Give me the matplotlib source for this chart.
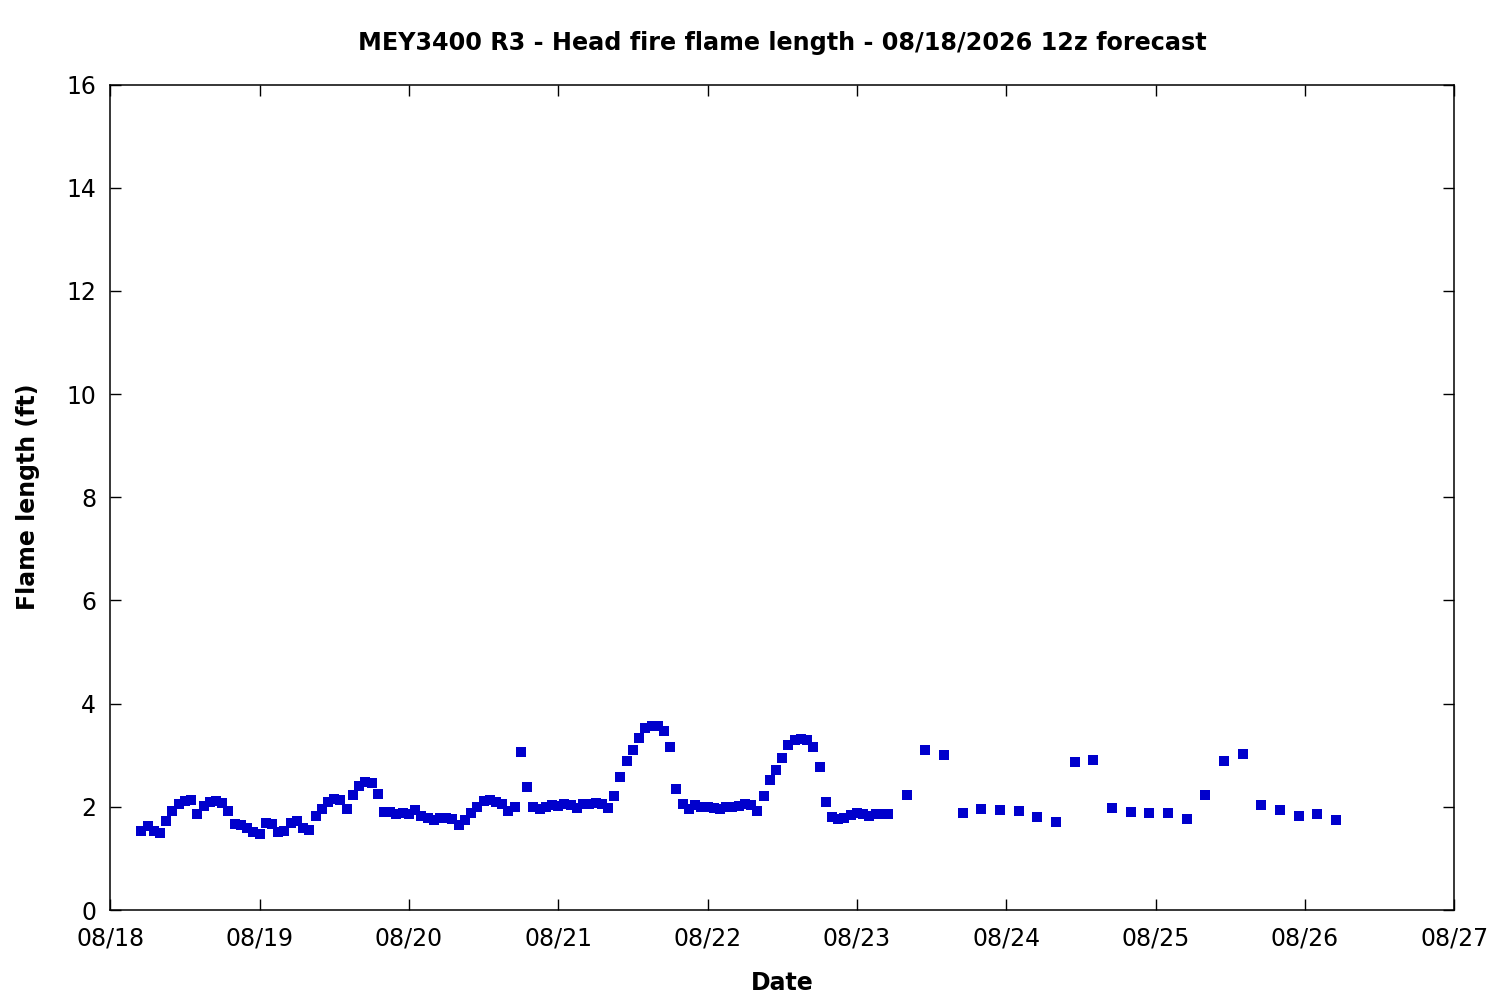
import matplotlib
matplotlib.use("Agg")
import matplotlib.pyplot as plt
import matplotlib.dates as mdates
from datetime import datetime, timedelta

plt.rcParams['font.family'] = ['DejaVu Sans']

title = "MEY3400 R3 - Head fire flame length - 08/18/2026 12z forecast"
x_label = "Date"
y_label = "Flame length (ft)"
start = datetime(2026, 8, 18)

# hours after 08/18 00:00
hours_hourly = list(range(5, 126))
flame_hourly = [
    1.54, 1.63, 1.54, 1.50, 1.72, 1.91, 2.05, 2.11, 2.13, 1.86,
    2.01, 2.09, 2.11, 2.08, 1.92, 1.66, 1.64, 1.58, 1.51, 1.47,
    1.69, 1.67, 1.51, 1.54, 1.69, 1.73, 1.58, 1.56, 1.82, 1.96,
    2.09, 2.15, 2.13, 1.96, 2.22, 2.40, 2.48, 2.46, 2.25, 1.89,
    1.89, 1.86, 1.88, 1.86, 1.93, 1.82, 1.78, 1.74, 1.78, 1.78,
    1.76, 1.64, 1.74, 1.88, 1.99, 2.11, 2.13, 2.09, 2.05, 1.91,
    2.00, 3.06, 2.38, 1.99, 1.95, 2.00, 2.04, 2.01, 2.05, 2.03,
    1.98, 2.06, 2.05, 2.08, 2.05, 1.97, 2.20, 2.57, 2.88, 3.10,
    3.33, 3.52, 3.57, 3.57, 3.47, 3.16, 2.34, 2.05, 1.96, 2.03,
    2.00, 2.00, 1.97, 1.95, 2.00, 2.00, 2.02, 2.06, 2.04, 1.91,
    2.20, 2.52, 2.71, 2.94, 3.19, 3.30, 3.32, 3.30, 3.16, 2.77,
    2.09, 1.80, 1.76, 1.78, 1.84, 1.88, 1.86, 1.82, 1.86, 1.86,
    1.86,
]
hours_3h = list(range(128, 198, 3))
flame_3h = [
    2.22, 3.10, 3.00, 1.88, 1.95, 1.93, 1.91, 1.80, 1.70, 2.86,
    2.90, 1.97, 1.89, 1.88, 1.88, 1.76, 2.22, 2.88, 3.02, 2.03,
    1.93, 1.82, 1.86, 1.74,
]

hours = hours_hourly + hours_3h
flame = flame_hourly + flame_3h
times = [start + timedelta(hours=h) for h in hours]

fig = plt.figure(figsize=(15, 10), dpi=100)
ax = fig.add_axes([0.0735, 0.09, 0.8960, 0.8255])

ax.plot(times, flame, linestyle='none', marker='s', markersize=6.6,
        color='#0000cc', markeredgewidth=0)

ax.set_xlim(start, start + timedelta(days=9))
ax.set_ylim(0, 16)
ax.set_yticks(range(0, 17, 2))
ax.xaxis.set_major_locator(mdates.DayLocator())
ax.xaxis.set_major_formatter(mdates.DateFormatter('%m/%d'))

ax.tick_params(direction='in', length=8, width=1.0, top=True, right=True,
               labelsize=17, colors='black')
ax.tick_params(axis='x', pad=12)
ax.tick_params(axis='y', pad=10)
for s in ax.spines.values():
    s.set_linewidth(1.1)

ax.set_title(title, fontsize=17.2, fontweight='bold', pad=25)
ax.set_xlabel(x_label, fontsize=17, fontweight='bold', labelpad=15)
ax.set_ylabel(y_label, fontsize=17, fontweight='bold', labelpad=19)

fig.savefig('out.png', dpi=100)
